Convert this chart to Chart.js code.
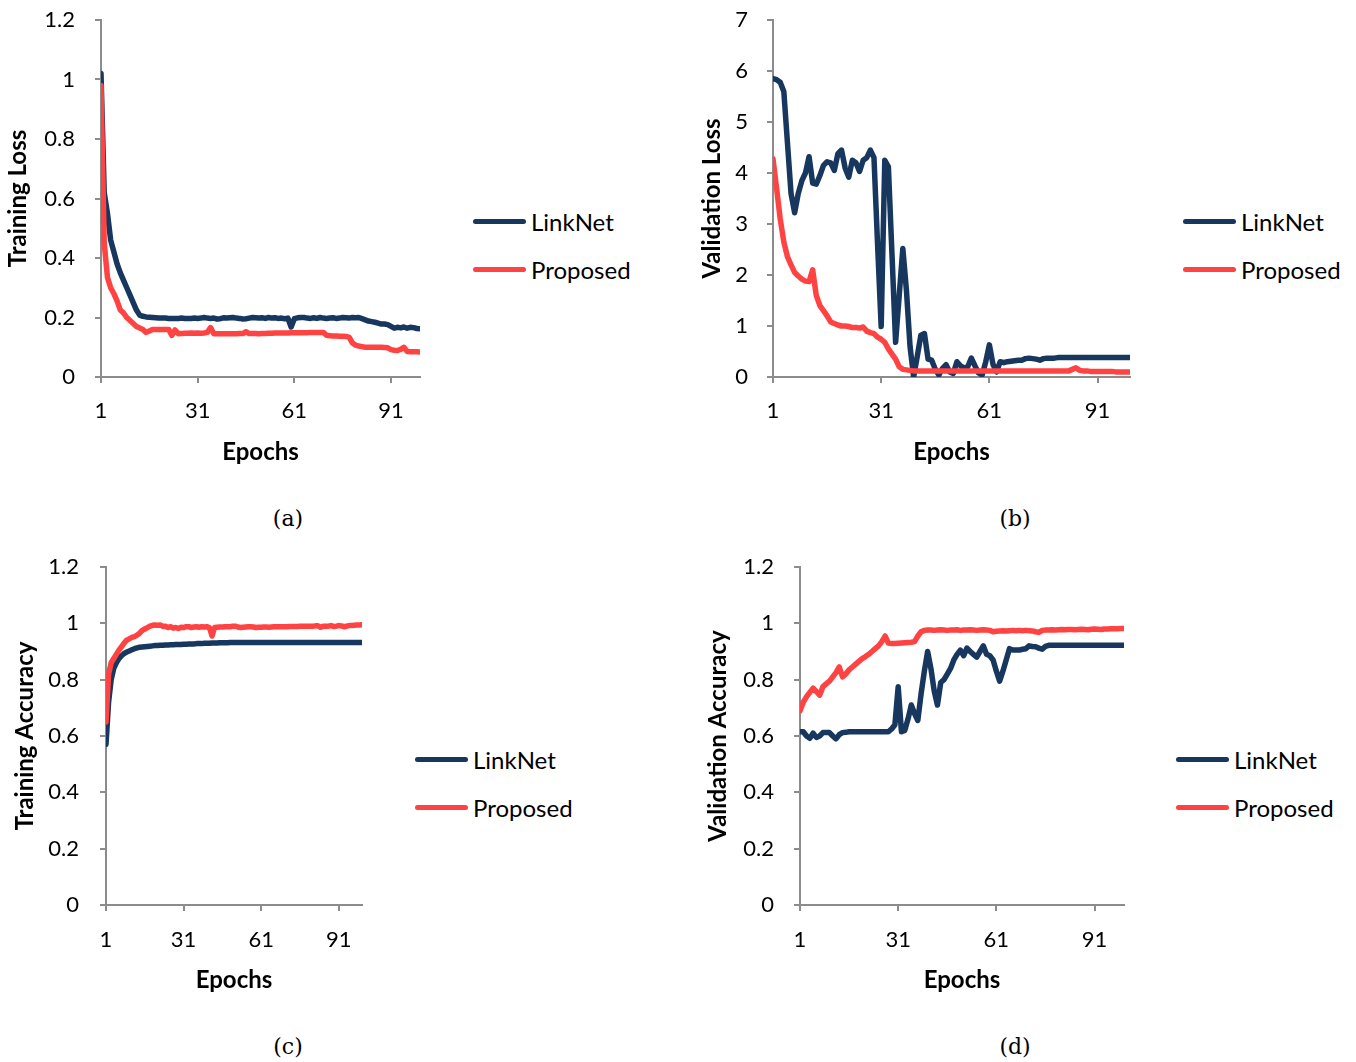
<!DOCTYPE html>
<html>
<head>
<meta charset="utf-8">
<title>LinkNet vs Proposed - training curves</title>
<script src="https://cdn.jsdelivr.net/npm/chart.js"></script>
<style>
  body { margin: 0; background: #fff; }
  #page { position: relative; width: 1356px; height: 1062px; font-family: Lato, sans-serif; }
  canvas { position: absolute; }
  .legend-item { position: absolute; height: 30px; display: flex; align-items: center;
                 font-size: 24px; color: #000; white-space: nowrap; }
  .legend-item .swatch { display: inline-block; width: 53px; height: 5px; border-radius: 3px; margin-right: 5px; }
  .caption { position: absolute; font-family: "DejaVu Serif", serif; font-size: 22px; color: #000;
             transform: translate(-50%, -50%); }
</style>
</head>
<body>
<div id="page">
  <canvas id="chartA" width="440" height="480" style="left:0px;top:0px"></canvas>
  <canvas id="chartB" width="470" height="480" style="left:680px;top:0px"></canvas>
  <canvas id="chartC" width="400" height="480" style="left:0px;top:540px"></canvas>
  <canvas id="chartD" width="470" height="480" style="left:680px;top:540px"></canvas>
  <div class="caption" style="left:288px;top:518px">(a)</div>
  <div class="caption" style="left:1015px;top:518px">(b)</div>
  <div class="caption" style="left:288px;top:1046px">(c)</div>
  <div class="caption" style="left:1015px;top:1046px">(d)</div>
</div>

<script>
// series names and tick labels
var seriesNames = ['LinkNet', 'Proposed'];
var xTicks = [1, 31, 61, 91];
var lossTicks = [0, 0.2, 0.4, 0.6, 0.8, 1, 1.2];
var valLossTicks = [0, 1, 2, 3, 4, 5, 6, 7];
var accTicks = [0, 0.2, 0.4, 0.6, 0.8, 1, 1.2];

// (a) training loss, epochs 1..100
var trainLossLinkNet = [
  1.02, 0.62, 0.55, 0.46, 0.42, 0.38, 0.35, 0.325, 0.30, 0.275,
  0.25, 0.225, 0.208, 0.204, 0.202, 0.201, 0.2, 0.199, 0.198, 0.198,
  0.198, 0.197, 0.197, 0.197, 0.197, 0.198, 0.197, 0.197, 0.197, 0.198,
  0.197, 0.198, 0.2, 0.198, 0.197, 0.198, 0.195, 0.196, 0.199, 0.198,
  0.199, 0.2, 0.198, 0.197, 0.195, 0.196, 0.198, 0.2, 0.199, 0.198,
  0.199, 0.197, 0.2, 0.198, 0.199, 0.197, 0.198, 0.196, 0.198, 0.168,
  0.196, 0.199, 0.2, 0.2, 0.198, 0.197, 0.199, 0.197, 0.2, 0.198,
  0.197, 0.198, 0.199, 0.197, 0.198, 0.2, 0.199, 0.198, 0.2, 0.199,
  0.2, 0.196, 0.192, 0.188, 0.186, 0.184, 0.181, 0.178, 0.178, 0.176,
  0.17, 0.164, 0.167, 0.165, 0.168, 0.164, 0.167, 0.166, 0.163, 0.162
];
var trainLossProposed = [
  0.98, 0.45, 0.335, 0.3, 0.28, 0.255, 0.225, 0.215, 0.2, 0.19,
  0.18, 0.17, 0.165, 0.16, 0.15, 0.155, 0.16, 0.16, 0.16, 0.16,
  0.16, 0.16, 0.14, 0.158, 0.145, 0.146, 0.147, 0.147, 0.148, 0.147,
  0.148, 0.147, 0.148, 0.15, 0.166, 0.145, 0.145, 0.145, 0.145, 0.145,
  0.145, 0.145, 0.145, 0.146, 0.146, 0.152, 0.146, 0.146, 0.146, 0.145,
  0.146, 0.146, 0.147, 0.147, 0.148, 0.148, 0.148, 0.148, 0.148, 0.149,
  0.149, 0.149, 0.149, 0.149, 0.149, 0.15, 0.15, 0.15, 0.15, 0.15,
  0.14, 0.139, 0.138, 0.138, 0.137, 0.137, 0.136, 0.134, 0.115, 0.107,
  0.104, 0.102, 0.1, 0.1, 0.1, 0.1, 0.1, 0.1, 0.099, 0.098,
  0.092, 0.09, 0.089, 0.093, 0.1, 0.086, 0.085, 0.085, 0.085, 0.084
];

// (b) validation loss
var valLossLinkNet = [
  5.85, 5.83, 5.78, 5.6, 4.6, 3.6, 3.22, 3.6, 3.85, 4.0,
  4.32, 3.8, 3.78, 3.95, 4.15, 4.22, 4.2, 4.05, 4.38, 4.45,
  4.1, 3.92, 4.25, 4.2, 4.03, 4.25, 4.3, 4.45, 4.3, 2.6,
  0.99, 4.25, 4.12, 2.4, 0.68, 1.6, 2.52, 1.7, 0.6, 0.0,
  0.4, 0.82, 0.85, 0.35, 0.33, 0.15, 0.04, 0.17, 0.24, 0.1,
  0.07, 0.3, 0.22, 0.18, 0.2, 0.37, 0.22, 0.08, 0.04, 0.3,
  0.63, 0.25, 0.1, 0.3, 0.28, 0.3, 0.31, 0.32, 0.33, 0.33,
  0.36, 0.37, 0.36, 0.35, 0.33, 0.36, 0.37, 0.37, 0.37, 0.38,
  0.38, 0.38, 0.38, 0.38, 0.38, 0.38, 0.38, 0.38, 0.38, 0.38,
  0.38, 0.38, 0.38, 0.38, 0.38, 0.38, 0.38, 0.38, 0.38, 0.38
];
var valLossProposed = [
  4.28, 3.7, 3.1, 2.65, 2.36, 2.2, 2.05, 1.98, 1.92, 1.88,
  1.87, 2.1, 1.6, 1.4, 1.3, 1.2, 1.08, 1.05, 1.02, 1.0,
  1.0, 0.99, 0.97, 0.97, 0.96, 0.98, 0.9, 0.87, 0.85, 0.78,
  0.74, 0.68, 0.55, 0.45, 0.35, 0.2, 0.15, 0.14, 0.13, 0.12,
  0.12, 0.12, 0.12, 0.12, 0.12, 0.12, 0.12, 0.12, 0.12, 0.12,
  0.12, 0.12, 0.12, 0.12, 0.12, 0.12, 0.12, 0.12, 0.12, 0.12,
  0.12, 0.12, 0.12, 0.12, 0.12, 0.12, 0.12, 0.12, 0.12, 0.12,
  0.12, 0.12, 0.12, 0.12, 0.12, 0.12, 0.12, 0.12, 0.12, 0.12,
  0.12, 0.12, 0.12, 0.15, 0.18, 0.13, 0.12, 0.12, 0.11, 0.11,
  0.11, 0.11, 0.11, 0.11, 0.11, 0.1, 0.1, 0.1, 0.1, 0.1
];

// (c) training accuracy
var trainAccLinkNet = [
  0.57, 0.72, 0.8, 0.84, 0.86, 0.875, 0.885, 0.893, 0.898, 0.902,
  0.906, 0.91, 0.913, 0.915, 0.916, 0.917, 0.918, 0.919, 0.92, 0.921,
  0.921, 0.922, 0.922, 0.923, 0.923, 0.924, 0.924, 0.925, 0.925, 0.925,
  0.926, 0.926, 0.927, 0.927, 0.927, 0.928, 0.928, 0.928, 0.929, 0.929,
  0.929, 0.93, 0.93, 0.93, 0.931, 0.931, 0.931, 0.931, 0.932, 0.932,
  0.932, 0.932, 0.932, 0.932, 0.932, 0.932, 0.932, 0.932, 0.932, 0.932,
  0.932, 0.932, 0.932, 0.932, 0.932, 0.932, 0.932, 0.932, 0.932, 0.932,
  0.932, 0.932, 0.932, 0.932, 0.932, 0.932, 0.932, 0.932, 0.932, 0.932,
  0.932, 0.932, 0.932, 0.932, 0.932, 0.932, 0.932, 0.932, 0.932, 0.932,
  0.932, 0.932, 0.932, 0.932, 0.932, 0.932, 0.932, 0.932, 0.932, 0.932
];
var trainAccProposed = [
  0.65, 0.82, 0.86, 0.875, 0.89, 0.905, 0.917, 0.93, 0.94, 0.945,
  0.95, 0.953, 0.958, 0.965, 0.975, 0.98, 0.985, 0.99, 0.993, 0.994,
  0.993, 0.994, 0.99, 0.99, 0.985, 0.988, 0.983, 0.985, 0.982, 0.986,
  0.985, 0.988, 0.988, 0.985, 0.987, 0.988, 0.986, 0.988, 0.987, 0.988,
  0.985, 0.955, 0.985, 0.986, 0.987, 0.987, 0.988, 0.988, 0.988, 0.99,
  0.99, 0.987, 0.985, 0.986, 0.987, 0.988, 0.988, 0.987, 0.985, 0.986,
  0.986, 0.987, 0.987, 0.986, 0.987, 0.988, 0.988, 0.988, 0.988, 0.988,
  0.988, 0.989, 0.989, 0.989, 0.989, 0.99, 0.99, 0.99, 0.99, 0.99,
  0.99, 0.991, 0.991, 0.986, 0.99, 0.99, 0.99, 0.992, 0.989, 0.99,
  0.992, 0.991, 0.988, 0.99, 0.992, 0.992, 0.993, 0.994, 0.994, 0.995
];

// (d) validation accuracy
var valAccLinkNet = [
  0.615, 0.615, 0.6, 0.592, 0.61, 0.595, 0.6, 0.612, 0.612, 0.612,
  0.6, 0.59, 0.605, 0.612, 0.613, 0.615, 0.615, 0.615, 0.615, 0.615,
  0.615, 0.615, 0.615, 0.615, 0.615, 0.615, 0.615, 0.615, 0.625, 0.64,
  0.775, 0.615, 0.62, 0.66, 0.71, 0.68, 0.655, 0.75, 0.83, 0.9,
  0.84, 0.76, 0.71, 0.79, 0.8, 0.82, 0.84, 0.87, 0.89, 0.905,
  0.885, 0.912, 0.9, 0.89, 0.88, 0.9, 0.92, 0.89, 0.885, 0.87,
  0.83, 0.795, 0.83, 0.87, 0.91, 0.905, 0.905, 0.905, 0.908, 0.91,
  0.92, 0.918, 0.917, 0.912, 0.908, 0.918, 0.922, 0.922, 0.922, 0.922,
  0.922, 0.922, 0.922, 0.922, 0.922, 0.922, 0.922, 0.922, 0.922, 0.922,
  0.922, 0.922, 0.922, 0.922, 0.922, 0.922, 0.922, 0.922, 0.922, 0.922
];
var valAccProposed = [
  0.69, 0.72, 0.74, 0.755, 0.77, 0.758, 0.745, 0.775, 0.785, 0.795,
  0.81, 0.825, 0.845, 0.81, 0.82, 0.835, 0.845, 0.855, 0.865, 0.875,
  0.882, 0.89, 0.9, 0.91, 0.92, 0.935, 0.955, 0.93, 0.928, 0.928,
  0.929, 0.93, 0.931, 0.932, 0.933, 0.935, 0.955, 0.97, 0.975, 0.976,
  0.976, 0.975, 0.976, 0.977, 0.976, 0.975, 0.976, 0.976, 0.977, 0.975,
  0.976, 0.976, 0.977, 0.976, 0.975, 0.976, 0.977, 0.976, 0.975, 0.97,
  0.972, 0.973, 0.974, 0.973, 0.974, 0.975, 0.974, 0.975, 0.974, 0.975,
  0.974, 0.973, 0.97, 0.968, 0.975, 0.976, 0.976, 0.977, 0.976, 0.977,
  0.978, 0.977, 0.978, 0.978, 0.977, 0.978, 0.979, 0.978, 0.977, 0.979,
  0.98, 0.979, 0.978, 0.98, 0.98, 0.981, 0.981, 0.981, 0.982, 0.982
];

var epochs = trainLossLinkNet.map(function (_, i) { return i + 1; });

var seriesColors = ['#17375E', '#FF4343'];
var seriesOrder = [1, 0]; // Proposed drawn on top
var axisGrey = '#8c8c8c';
var tickFont = { family: 'Lato', size: 22, lineHeight: 1.2 };
var titleFont = { family: 'Lato', size: 24, weight: 'bold', lineHeight: 1.2 };

function makeChart(p) {
  var chart = new Chart(document.getElementById(p.id), {
    type: 'line',
    data: {
      labels: epochs,
      datasets: p.series.map(function (vals, i) {
        return {
          label: seriesNames[i],
          data: vals,
          order: seriesOrder[i],
          borderColor: seriesColors[i],
          backgroundColor: seriesColors[i],
          borderWidth: 5.5,
          pointRadius: 0,
          tension: 0,
          borderCapStyle: 'round',
          borderJoinStyle: 'round',
          fill: false
        };
      })
    },
    options: {
      responsive: false,
      animation: false,
      events: [],
      layout: { padding: { left: 0, top: p.padTop, right: p.padRight, bottom: 0 } },
      plugins: { legend: { display: false }, tooltip: { enabled: false } },
      scales: {
        x: {
          type: 'linear', min: 1, max: 100,
          afterBuildTicks: function (s) { s.ticks = xTicks.map(function (v) { return { value: v }; }); },
          afterFit: function (s) { s.height = p.xHeight; s.paddingLeft = 0; s.paddingRight = 0; },
          grid: { drawOnChartArea: false, drawTicks: true, tickLength: 6, color: axisGrey, lineWidth: 2 },
          border: { color: axisGrey, width: 2 },
          ticks: { padding: p.xTickPad, color: '#000', font: tickFont, maxRotation: 0, autoSkip: false,
                   callback: function (v) { return String(v); } },
          title: { display: true, text: 'Epochs', color: '#000', font: titleFont,
                   padding: { top: 0, bottom: p.xTitlePad } }
        },
        y: {
          min: p.yTicks[0], max: p.yTicks[p.yTicks.length - 1],
          afterBuildTicks: function (s) { s.ticks = p.yTicks.map(function (v) { return { value: v }; }); },
          afterFit: function (s) { s.width = p.yWidth; s.paddingTop = 0; s.paddingBottom = 0; },
          grid: { drawOnChartArea: false, drawTicks: true, tickLength: 6, color: axisGrey, lineWidth: 2 },
          border: { color: axisGrey, width: 2 },
          ticks: { padding: p.yTickPad, color: '#000', font: tickFont,
                   callback: function (v) { return String(v); } },
          title: { display: true, text: p.yTitle, color: '#000', font: titleFont,
                   padding: { top: p.yTitlePad, bottom: 0 } }
        }
      }
    }
  });

  // legend built from the chart's own datasets
  var page = document.getElementById('page');
  chart.data.datasets.forEach(function (ds, i) {
    var item = document.createElement('div');
    item.className = 'legend-item';
    item.style.left = p.legendX + 'px';
    item.style.top = (p.legendY + i * 48 - 15) + 'px';
    var sw = document.createElement('span');
    sw.className = 'swatch';
    sw.style.background = ds.borderColor;
    item.appendChild(sw);
    item.appendChild(document.createTextNode(ds.label));
    page.appendChild(item);
  });
  return chart;
}

makeChart({ id: 'chartA', series: [trainLossLinkNet, trainLossProposed], yTicks: lossTicks,
  yTitle: 'Training Loss', padTop: 20, padRight: 20, yWidth: 101, xHeight: 103,
  xTickPad: 15, xTitlePad: 13.6, yTickPad: 20, yTitlePad: 4, legendX: 473, legendY: 221 });

makeChart({ id: 'chartB', series: [valLossLinkNet, valLossProposed], yTicks: valLossTicks,
  yTitle: 'Validation Loss', padTop: 20, padRight: 20, yWidth: 93, xHeight: 103,
  xTickPad: 15, xTitlePad: 13.6, yTickPad: 19, yTitlePad: 17.6, legendX: 1183, legendY: 221 });

makeChart({ id: 'chartC', series: [trainAccLinkNet, trainAccProposed], yTicks: accTicks,
  yTitle: 'Training Accuracy', padTop: 27, padRight: 38, yWidth: 106, xHeight: 115,
  xTickPad: 16, xTitlePad: 25.6, yTickPad: 21, yTitlePad: 10.6, legendX: 415, legendY: 759 });

makeChart({ id: 'chartD', series: [valAccLinkNet, valAccProposed], yTicks: accTicks,
  yTitle: 'Validation Accuracy', padTop: 27, padRight: 26, yWidth: 120, xHeight: 115,
  xTickPad: 16, xTitlePad: 25.6, yTickPad: 20, yTitlePad: 23.6, legendX: 1176, legendY: 759 });
</script>
</body>
</html>
